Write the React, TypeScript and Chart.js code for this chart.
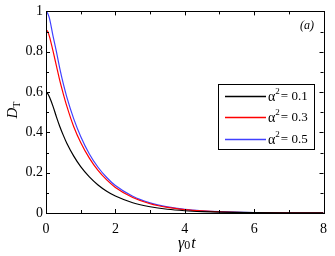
import React, { useEffect, useRef } from "react";
import { Chart, registerables } from "chart.js";

Chart.register(...registerables);

const tValues = [0, 0.05, 0.1, 0.2, 0.3, 0.4, 0.5, 0.6, 0.8, 1, 1.25, 1.5, 1.75, 2, 2.5, 3, 3.5, 4, 4.5, 5, 6, 7, 8];
const seriesA01 = [0.6, 0.592, 0.575, 0.53, 0.477, 0.428, 0.385, 0.346, 0.282, 0.23, 0.179, 0.139, 0.108, 0.084, 0.051, 0.031, 0.0185, 0.0112, 0.0068, 0.0041, 0.0015, 0.0005, 0.0002];
const seriesA03 = [0.91, 0.9, 0.875, 0.805, 0.73, 0.655, 0.59, 0.53, 0.428, 0.35, 0.272, 0.211, 0.164, 0.127, 0.077, 0.046, 0.028, 0.017, 0.0103, 0.0062, 0.0022, 0.0008, 0.0003];
const seriesA05 = [1.0, 0.99, 0.965, 0.88, 0.8, 0.715, 0.64, 0.575, 0.467, 0.38, 0.293, 0.227, 0.176, 0.136, 0.083, 0.05, 0.03, 0.018, 0.011, 0.0067, 0.0025, 0.0009, 0.0003];
const legendValues = ["0.1", "0.3", "0.5"];
const xMajorTicks = [0, 2, 4, 6, 8];
const yMajorTicks = [0, 0.2, 0.4, 0.6, 0.8, 1];

const colors = ["#000000", "#ff0000", "#4040ff"];
const SERIF = "'Liberation Serif', 'Times New Roman', Times, serif";

const overlayPlugin = {
  id: "overlay",
  afterDraw(chart: any) {
    const ctx = chart.ctx as CanvasRenderingContext2D;
    const area = chart.chartArea;
    const xs = chart.scales.x;
    const ys = chart.scales.y;
    ctx.save();
    ctx.strokeStyle = "#000";
    ctx.lineWidth = 1;
    ctx.strokeRect(Math.round(area.left) + 0.5, Math.round(area.top) + 0.5, Math.round(area.right - area.left), Math.round(area.bottom - area.top));
    const drawTick = (x1: number, y1: number, x2: number, y2: number) => {
      ctx.beginPath();
      ctx.moveTo(x1, y1);
      ctx.lineTo(x2, y2);
      ctx.stroke();
    };
    for (let v = 0; v <= 8; v += 1) {
      const len = v % 2 === 0 ? 4 : 3;
      const px = Math.round(xs.getPixelForValue(v)) + 0.5;
      drawTick(px, area.bottom, px, area.bottom - len);
      drawTick(px, area.top, px, area.top + len);
    }
    for (let i = 0; i <= 10; i++) {
      const v = i / 10;
      const len = i % 2 === 0 ? 4 : 3;
      const py = Math.round(ys.getPixelForValue(v)) + 0.5;
      drawTick(area.left, py, area.left + len, py);
      drawTick(area.right, py, area.right - len, py);
    }
    ctx.fillStyle = "#000";
    ctx.font = `italic 12px ${SERIF}`;
    ctx.textAlign = "right";
    ctx.textBaseline = "middle";
    ctx.fillText("(a)", 314, 26);

    const lx = 218, ly = 84, lw = 96, lh = 65;
    ctx.fillStyle = "#fff";
    ctx.fillRect(lx, ly, lw, lh);
    ctx.strokeStyle = "#000";
    ctx.lineWidth = 1;
    ctx.strokeRect(lx + 0.5, ly + 0.5, lw, lh);
    const rows = [96, 117, 139];
    legendValues.forEach((val, i) => {
      const y = rows[i];
      ctx.strokeStyle = colors[i];
      ctx.lineWidth = 1.3;
      ctx.beginPath();
      ctx.moveTo(225, y + 0.5);
      ctx.lineTo(266, y + 0.5);
      ctx.stroke();
      ctx.fillStyle = "#000";
      ctx.textAlign = "left";
      ctx.textBaseline = "middle";
      ctx.font = `14px ${SERIF}`;
      let x = 268;
      ctx.fillText("α", x, y + 1);
      x += ctx.measureText("α").width;
      ctx.font = `9px ${SERIF}`;
      ctx.fillText("2", x, y - 4);
      x += ctx.measureText("2").width + 1;
      ctx.font = `13px ${SERIF}`;
      ctx.fillText("= " + val, x, y + 1);
    });

    ctx.fillStyle = "#000";
    ctx.textBaseline = "alphabetic";
    ctx.textAlign = "left";
    let tx = 178;
    const ty = 248;
    ctx.font = `italic 16px ${SERIF}`;
    ctx.fillText("γ", tx, ty);
    tx += ctx.measureText("γ").width;
    ctx.font = `12px ${SERIF}`;
    ctx.fillText("0", tx, ty + 1);
    tx += ctx.measureText("0").width + 1;
    ctx.font = `italic 16px ${SERIF}`;
    ctx.fillText("t", tx, ty);

    ctx.save();
    ctx.translate(17, 110);
    ctx.rotate(-Math.PI / 2);
    ctx.textAlign = "left";
    ctx.textBaseline = "alphabetic";
    ctx.font = `italic 15px ${SERIF}`;
    const dW = ctx.measureText("D").width;
    ctx.font = `10px ${SERIF}`;
    const tW = ctx.measureText("T").width;
    let sx = -(dW + tW) / 2;
    ctx.font = `italic 15px ${SERIF}`;
    ctx.fillText("D", sx, 0);
    sx += dW;
    ctx.font = `10px ${SERIF}`;
    ctx.fillText("T", sx, 3);
    ctx.restore();

    ctx.restore();
  },
};

export default function App() {
  const ref = useRef<HTMLCanvasElement | null>(null);
  useEffect(() => {
    if (!ref.current) return;
    const mk = (vals: number[]) => tValues.map((t, i) => ({ x: t, y: vals[i] }));
    const chart = new Chart(ref.current, {
      type: "line",
      data: {
        datasets: [
          { label: "α² = 0.1", data: mk(seriesA01), borderColor: colors[0] },
          { label: "α² = 0.3", data: mk(seriesA03), borderColor: colors[1] },
          { label: "α² = 0.5", data: mk(seriesA05), borderColor: colors[2] },
        ].map((d) => ({ ...d, borderWidth: 1.2, pointRadius: 0, cubicInterpolationMode: "monotone" as const, fill: false })),
      },
      options: {
        animation: false,
        responsive: false,
        layout: { padding: { left: 0, top: 8, right: 6, bottom: 0 } },
        plugins: { legend: { display: false }, tooltip: { enabled: false } },
        scales: {
          x: {
            type: "linear",
            min: 0,
            max: 8,
            afterFit: (s: any) => { s.height = 43; },
            afterBuildTicks: (s: any) => { s.ticks = xMajorTicks.map((v) => ({ value: v })); },
            grid: { display: false, drawTicks: false },
            border: { display: false },
            ticks: { font: { family: SERIF, size: 14 }, color: "#000", padding: 8, maxRotation: 0 },
          },
          y: {
            type: "linear",
            min: 0,
            max: 1,
            afterFit: (s: any) => { s.width = 46; },
            afterBuildTicks: (s: any) => { s.ticks = yMajorTicks.map((v) => ({ value: v })); },
            grid: { display: false, drawTicks: false },
            border: { display: false },
            ticks: {
              font: { family: SERIF, size: 14 },
              color: "#000",
              padding: 3,
              callback: (v: any) => (v === 0 ? "0" : v === 1 ? "1" : Number(v).toFixed(1)),
            },
          },
        },
      },
      plugins: [overlayPlugin],
    });
    return () => chart.destroy();
  }, []);
  return (
    <div style={{ position: "fixed", left: 0, top: 0, width: 335, height: 256, background: "#fff" }}>
      <canvas ref={ref} width={335} height={256} style={{ width: 335, height: 256 }} />
    </div>
  );
}
